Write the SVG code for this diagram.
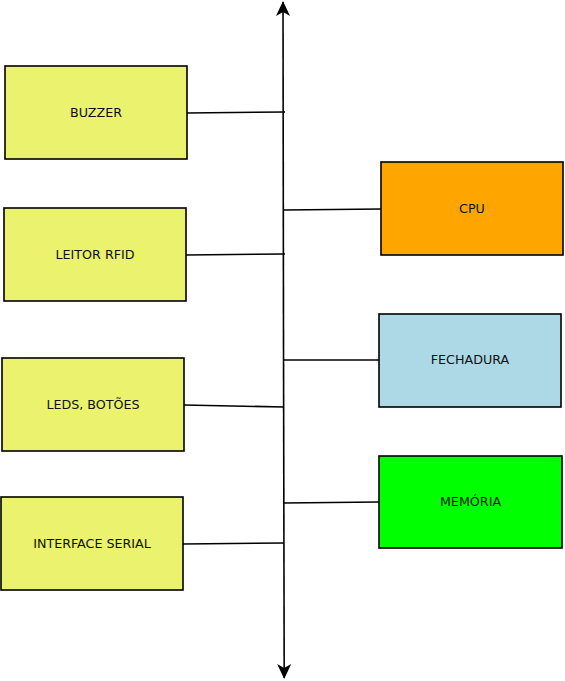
<svg xmlns="http://www.w3.org/2000/svg" width="565" height="681" viewBox="0 0 565 681">
<style>
.box{stroke:#000;stroke-width:1.6}
.y{fill:#eaf26e}
.t{font-family:"DejaVu Sans",sans-serif;font-size:12.7px;fill:#111;text-anchor:middle}
.c{stroke:#000;stroke-width:1.6;fill:none}
</style>
<defs>
<marker id="ah" markerWidth="16" markerHeight="16" viewBox="0 0 16 16" refX="14" refY="8" orient="auto" markerUnits="userSpaceOnUse">
<path d="M0,1 L15,8 L0,15 L4,8 Z" fill="#000"/>
</marker>
</defs>
<g id="connectors">
<line class="c" x1="283.5" y1="340" x2="283" y2="2" marker-end="url(#ah)"/>
<line class="c" x1="283.5" y1="340" x2="284.2" y2="678" marker-end="url(#ah)"/>
<line class="c" x1="187" y1="113" x2="285" y2="112"/>
<line class="c" x1="186" y1="255" x2="285" y2="254"/>
<line class="c" x1="184" y1="405" x2="284" y2="407"/>
<line class="c" x1="183" y1="544" x2="284" y2="543"/>
<line class="c" x1="284" y1="210" x2="381" y2="209"/>
<line class="c" x1="284" y1="360" x2="379" y2="360"/>
<line class="c" x1="284" y1="503" x2="379" y2="502"/>
</g>
<g id="buzzer"><rect class="box y" x="5" y="66" width="182" height="93"/><text class="t" x="96" y="117">BUZZER</text></g>
<g id="leitor-rfid"><rect class="box y" x="4" y="208" width="182" height="93"/><text class="t" x="95" y="259">LEITOR RFID</text></g>
<g id="leds-botoes"><rect class="box y" x="2" y="358" width="182" height="93"/><text class="t" x="93" y="409">LEDS, BOTÕES</text></g>
<g id="interface-serial"><rect class="box y" x="1" y="497" width="182" height="93"/><text class="t" x="92" y="548">INTERFACE SERIAL</text></g>
<g id="cpu"><rect class="box" fill="#ffa500" x="381" y="162" width="182" height="93"/><text class="t" x="472" y="213">CPU</text></g>
<g id="fechadura"><rect class="box" fill="#add8e6" x="379" y="314" width="182" height="93"/><text class="t" x="470" y="364">FECHADURA</text></g>
<g id="memoria"><rect class="box" fill="#00ff00" x="379" y="456" width="183" height="92"/><text class="t" x="470.5" y="506">MEMÓRIA</text></g>
</svg>
